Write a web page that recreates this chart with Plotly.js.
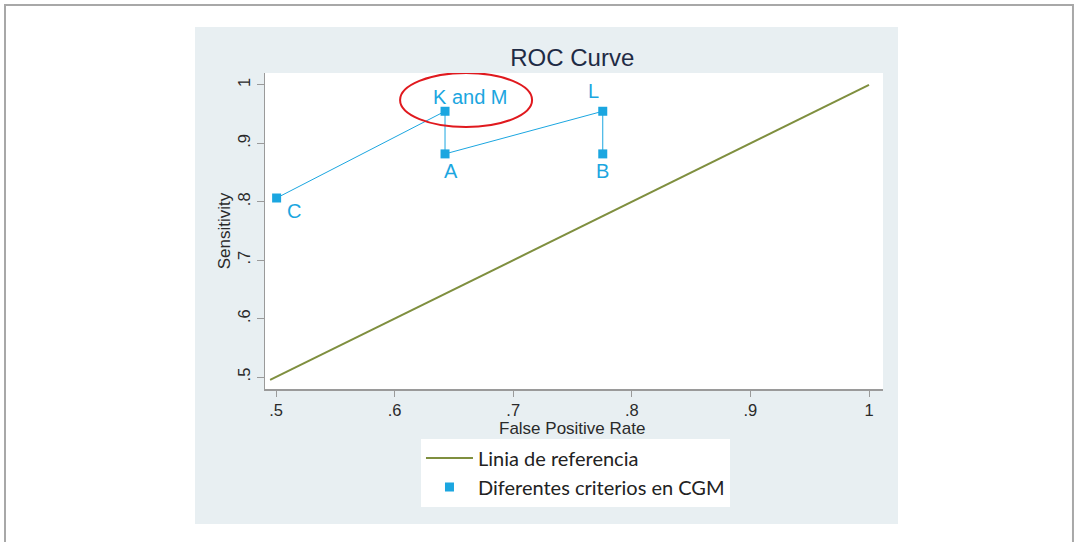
<!DOCTYPE html>
<html>
<head>
<meta charset="utf-8">
<script src="https://cdn.plot.ly/plotly-3.0.1.min.js"></script>
<style>
html,body{margin:0;padding:0;background:#fff;}
#chart{width:1074px;height:542px;}
</style>
</head>
<body>
<div id="chart"></div>
<script>
// Data
const refX = [0.495, 1.0];
const refY = [0.495, 1.0];
const pointLabels = ["C", "K and M", "A", "L", "B"];
const fpr = [0.5005, 0.6425, 0.6425, 0.7755, 0.7755];
const sensitivity = [0.8065, 0.955, 0.882, 0.955, 0.882];
const xTickVals = [0.5, 0.6, 0.7, 0.8, 0.9, 1];
const xTickText = [".5", ".6", ".7", ".8", ".9", "1"];
const yTickVals = [0.5, 0.6, 0.7, 0.8, 0.9, 1];
const yTickText = [".5", ".6", ".7", ".8", ".9", "1"];
const seriesNames = ["Linia de referencia", "Diferentes criterios en CGM"];
const xTitle = "False Positive Rate";
const yTitle = "Sensitivity";

// label offsets (px) per point
const labelShiftX = [17, 25, 6, -9, 0];
const labelShiftY = [-13, 14, -17, 20, -17];

const blue = "#1ba6e0";
const green = "#7f8f3f";
const tickFont = {family: "Liberation Sans, Arial, sans-serif", size: 16.5, color: "#2a2a2a"};
const titleFont = {family: "Liberation Sans, Arial, sans-serif", size: 17, color: "#2a2a2a"};

const traces = [
  {x: refX, y: refY, type: "scatter", mode: "lines", name: seriesNames[0],
   line: {color: green, width: 2}, hoverinfo: "skip"},
  {x: fpr, y: sensitivity, type: "scatter", mode: "lines", showlegend: false,
   line: {color: blue, width: 1}, hoverinfo: "skip"},
  {x: fpr, y: sensitivity, type: "scatter", mode: "markers", name: seriesNames[1],
   marker: {symbol: "square", size: 9, color: blue}, text: pointLabels}
];

const annotations = pointLabels.map((t, i) => ({
  x: fpr[i], y: sensitivity[i], xref: "x", yref: "y", text: t, showarrow: false,
  xshift: labelShiftX[i], yshift: labelShiftY[i],
  font: {family: "Liberation Sans, Arial, sans-serif", size: 20, color: blue}
}));
// x-axis title placed tight under the tick labels
annotations.push({x: 0.497, y: -0.1250, xref: "paper", yref: "paper", xanchor: "center",
  yanchor: "middle", text: xTitle, showarrow: false, font: titleFont});

const shapes = [
  // outer frame
  {type: "rect", xref: "paper", yref: "paper", x0: -0.4207, x1: 1.3074, y0: -0.6, y1: 1.2152,
   line: {color: "#a8a8a8", width: 2}, fillcolor: "rgba(0,0,0,0)", layer: "below"},
  // graph region panel
  {type: "rect", xref: "paper", yref: "paper", x0: -0.1133, x1: 1.0243, y0: -0.4272, y1: 1.1456,
   line: {width: 0}, fillcolor: "#e8eff2", layer: "below"},
  // plot region
  {type: "rect", xref: "paper", yref: "paper", x0: 0, x1: 1, y0: 0, y1: 1,
   line: {width: 0}, fillcolor: "#ffffff", layer: "below"},
  // highlight ellipse around "K and M"
  {type: "circle", xref: "x", yref: "y", x0: 0.6046, x1: 0.7159, y0: 0.928, y1: 1.0205,
   line: {color: "#e0191e", width: 2}, fillcolor: "rgba(0,0,0,0)"}
];

const layout = {
  width: 1074, height: 542,
  margin: {l: 265, r: 191, t: 73, b: 153},
  paper_bgcolor: "rgba(0,0,0,0)",
  plot_bgcolor: "rgba(0,0,0,0)",
  title: {text: "ROC Curve", x: 0.5328, xanchor: "center", y: 0.893, yanchor: "middle",
          font: {family: "Liberation Sans, Arial, sans-serif", size: 24, color: "#1f2b45"}},
  xaxis: {range: [0.4907, 1.0118], tickvals: xTickVals, ticktext: xTickText,
          showgrid: false, zeroline: false, showline: true, linecolor: "#9a9a9a", linewidth: 1.5,
          ticks: "outside", ticklen: 6, tickcolor: "#9a9a9a", tickfont: tickFont},
  yaxis: {range: [0.4795, 1.0205], tickvals: yTickVals, ticktext: yTickText, tickangle: -90,
          showgrid: false, zeroline: false, showline: true, linecolor: "#9a9a9a", linewidth: 1.5,
          ticks: "outside", ticklen: 7, tickcolor: "#9a9a9a", tickfont: tickFont,
          title: {text: yTitle, font: titleFont, standoff: 0}},
  showlegend: true,
  legend: {x: 0.2524, y: -0.157, xanchor: "left", yanchor: "top", bgcolor: "#ffffff",
           borderwidth: 0, font: {family: "Lato, Noto Sans, sans-serif", size: 20, color: "#222"},
           itemwidth: 47, tracegroupgap: 0},
  shapes: shapes,
  annotations: annotations
};

Plotly.newPlot("chart", traces, layout, {displayModeBar: false, staticPlot: true});
</script>
</body>
</html>
